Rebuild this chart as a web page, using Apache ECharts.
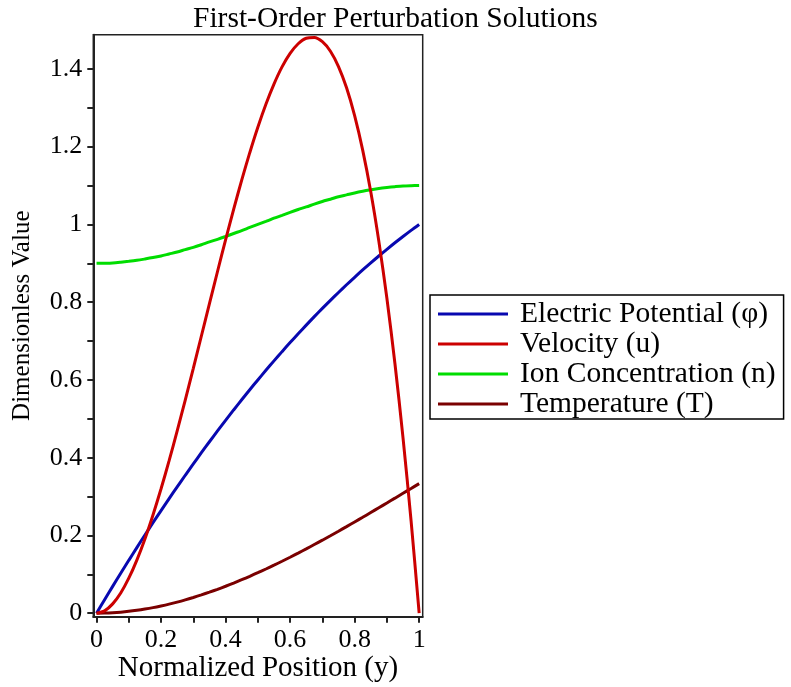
<!DOCTYPE html>
<html>
<head>
<meta charset="utf-8">
<script src="https://cdn.jsdelivr.net/npm/echarts@6/dist/echarts.min.js"></script>
<style>
html,body{margin:0;padding:0;background:#fff;}
#chart{width:791px;height:687px;}
</style>
</head>
<body>
<div id="chart"></div>
<script>
// Normalized position samples
const positions = [0, 0.025, 0.05, 0.075, 0.1, 0.125, 0.15, 0.175, 0.2, 0.225, 0.25, 0.275, 0.3, 0.325, 0.35, 0.375, 0.4, 0.425, 0.45, 0.475, 0.5,
  0.525, 0.55, 0.575, 0.6, 0.625, 0.65, 0.675, 0.7, 0.725, 0.75, 0.775, 0.8, 0.825, 0.85, 0.875, 0.9, 0.925, 0.95, 0.975, 1];
// Series values
const electricPotential = [0, 0.0348, 0.069, 0.1028, 0.136, 0.1688, 0.201, 0.2328, 0.264, 0.2948, 0.325, 0.3548, 0.384, 0.4128, 0.441, 0.4688, 0.496, 0.5228, 0.549, 0.5748, 0.600,
  0.6248, 0.649, 0.6728, 0.696, 0.7188, 0.741, 0.7628, 0.784, 0.8048, 0.825, 0.8448, 0.864, 0.8828, 0.901, 0.9188, 0.936, 0.9528, 0.969, 0.9848, 1.000];
const velocity = [0, 0.0061, 0.024, 0.0520, 0.090, 0.1367, 0.191, 0.2527, 0.320, 0.3923, 0.469, 0.5483, 0.630, 0.7130, 0.796, 0.8789, 0.960, 1.0386, 1.114, 1.1845, 1.250,
  1.3092, 1.361, 1.4052, 1.440, 1.4648, 1.479, 1.4808, 1.470, 1.4455, 1.406, 1.3514, 1.280, 1.1911, 1.084, 0.9570, 0.810, 0.6417, 0.451, 0.2377, 0];
const ionConcentration = [0.900, 0.9003, 0.901, 0.9028, 0.905, 0.9076, 0.911, 0.9147, 0.919, 0.9240, 0.929, 0.9351, 0.941, 0.9478, 0.955, 0.9617, 0.969, 0.9767, 0.984, 0.9922, 1.000,
  1.0078, 1.016, 1.0233, 1.031, 1.0383, 1.045, 1.0522, 1.059, 1.0649, 1.071, 1.0760, 1.081, 1.0853, 1.089, 1.0924, 1.095, 1.0972, 1.099, 1.0997, 1.100];
const temperature = [0, 0.0003, 0.0012, 0.0027, 0.0048, 0.0075, 0.0107, 0.0144, 0.0187, 0.0234, 0.0286, 0.0343, 0.0405, 0.0471, 0.0541, 0.0615, 0.0693, 0.0775, 0.0861, 0.0950, 0.1042,
  0.1137, 0.1235, 0.1336, 0.1440, 0.1546, 0.1655, 0.1766, 0.1878, 0.1993, 0.2109, 0.2227, 0.2347, 0.2467, 0.2589, 0.2712, 0.2835, 0.2959, 0.3084, 0.3208, 0.3333];
const seriesNames = ['Electric Potential (\u03c6)', 'Velocity (u)', 'Ion Concentration (n)', 'Temperature (T)'];
const seriesColors = ['#0808b0', '#cc0000', '#00dd00', '#7a0000'];
// Tick positions
const xTicks = [0, 0.1, 0.2, 0.3, 0.4, 0.5, 0.6, 0.7, 0.8, 0.9, 1];
const xLabels = [0, 0.2, 0.4, 0.6, 0.8, 1];
const yTicks = [0, 0.1, 0.2, 0.3, 0.4, 0.5, 0.6, 0.7, 0.8, 0.9, 1, 1.1, 1.2, 1.3, 1.4];
const yLabels = [0, 0.2, 0.4, 0.6, 0.8, 1, 1.2, 1.4];

const FONT = 'Liberation Serif';
const allValues = [electricPotential, velocity, ionConcentration, temperature];

const chart = echarts.init(document.getElementById('chart'), null, {renderer: 'canvas'});
const fmt = v => String(Math.round(v * 10) / 10);

chart.setOption({
  backgroundColor: '#ffffff',
  animation: false,
  title: {
    text: 'First-Order Perturbation Solutions',
    left: 193,
    top: 4,
    padding: 0,
    textStyle: {fontFamily: FONT, fontSize: 29.5, fontWeight: 'normal', color: '#000'}
  },
  grid: {
    left: 93.3, right: 368.3, top: 34.7, bottom: 70.3,
    outerBoundsMode: 'none',
    containLabel: false,
    show: true, borderColor: '#222', borderWidth: 1.5, backgroundColor: 'transparent'
  },
  legend: {
    orient: 'vertical',
    left: 430,
    top: 295,
    padding: [4, 8, 0, 8],
    borderColor: '#000',
    borderWidth: 1.5,
    icon: 'rect',
    itemWidth: 70,
    itemHeight: 3,
    itemGap: 0,
    data: seriesNames,
    textStyle: {fontFamily: FONT, fontSize: 29.5, color: '#000', lineHeight: 24, padding: [0, 0, 0, 7]}
  },
  xAxis: {
    type: 'value',
    min: -0.01,
    max: 1.011,
    name: 'Normalized Position (y)',
    nameLocation: 'middle',
    nameGap: 37,
    nameMoveOverlap: false,
    nameTextStyle: {fontFamily: FONT, fontSize: 29, color: '#000'},
    axisLine: {show: true, onZero: false, lineStyle: {color: '#222', width: 2}},
    axisTick: {show: true, length: 6, customValues: xTicks, lineStyle: {color: '#222', width: 2}},
    axisLabel: {customValues: xLabels, formatter: fmt, margin: 10, fontFamily: FONT, fontSize: 26, color: '#000'},
    splitLine: {show: false}
  },
  yAxis: {
    type: 'value',
    min: -0.009,
    max: 1.488,
    name: 'Dimensionless Value',
    nameLocation: 'middle',
    nameRotate: 90,
    nameGap: 58,
    nameMoveOverlap: false,
    nameTextStyle: {fontFamily: FONT, fontSize: 25, color: '#000', padding: [0, 0, 0, 20]},
    axisLine: {show: true, onZero: false, lineStyle: {color: '#222', width: 2}},
    axisTick: {show: true, length: 6, customValues: yTicks, lineStyle: {color: '#222', width: 2}},
    axisLabel: {customValues: yLabels, formatter: fmt, margin: 11, fontFamily: FONT, fontSize: 26, color: '#000'},
    splitLine: {show: false}
  },
  series: seriesNames.map((name, i) => ({
    name: name,
    type: 'line',
    data: positions.map((x, j) => [x, allValues[i][j]]),
    smooth: 0.3,
    symbol: 'none',
    color: seriesColors[i],
    lineStyle: {color: seriesColors[i], width: 3},
    z: i === 1 ? 3 : 2
  }))
});
</script>
</body>
</html>
